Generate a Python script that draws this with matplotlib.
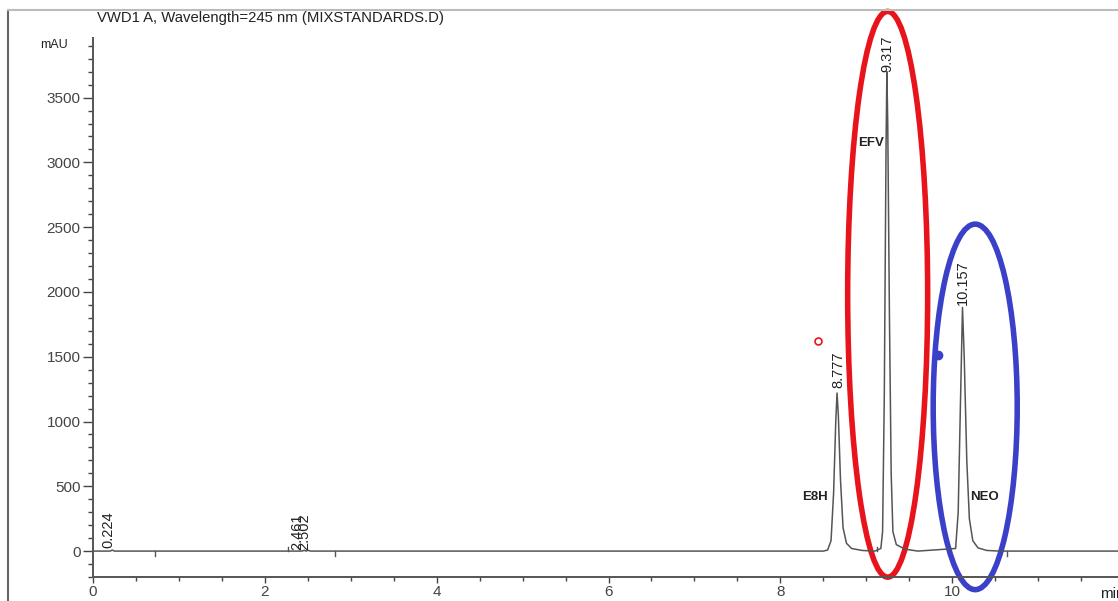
import matplotlib.pyplot as plt
from matplotlib.patches import Ellipse
from matplotlib.lines import Line2D
from matplotlib.ticker import MultipleLocator

plt.rcParams['font.family'] = ['Liberation Sans', 'DejaVu Sans']

# chromatogram trace (min, mAU)
trace_min = [0.0, 0.20, 0.224, 0.25, 2.43, 2.461, 2.48, 2.502, 2.53,
             8.50, 8.55, 8.59, 8.62, 8.645, 8.66, 8.675, 8.70, 8.73, 8.77, 8.83, 8.95,
             9.10, 9.17, 9.19, 9.21, 9.23, 9.24, 9.25, 9.27, 9.29, 9.31, 9.35, 9.45,
             9.60, 10.04, 10.07, 10.095, 10.12, 10.14, 10.17, 10.20, 10.24, 10.30,
             10.40, 10.55, 11.93]
trace_mau = [0, 0, 8, 0, 0, 6, 0, 6, 0,
             0, 8, 80, 450, 1000, 1220, 1050, 550, 180, 60, 20, 5,
             0, 20, 150, 1200, 3100, 3700, 3300, 1800, 600, 150, 50, 15,
             0, 20, 300, 1100, 1880, 1500, 700, 250, 80, 25,
             5, 0, 0]

# retention time labels
rt_text = ['0.224', '2.461', '2.502', '8.777', '9.317', '10.157']
rt_pos = [0.175, 2.375, 2.456, 8.67, 9.245, 10.125]
rt_base = [25, 10, 10, 1260, 3700, 1900]

# compound names
names = ['E8H', 'EFV', 'NEO']
name_x = [8.40, 9.06, 10.38]
name_y = [417, 3153, 417]

# integration marks on the baseline
mark_min = [0.72, 2.27, 2.82, 9.13, 10.64]
mark_dir = [-1, 1, -1, 1, -1]

fig = plt.figure(figsize=(11.18, 6.01), dpi=100)
ax = fig.add_axes([93 / 1118, 1 - 577 / 601, 1 - 93 / 1118, (577 - 38) / 601])

ax.plot(trace_min, trace_mau, color='#555555', lw=1.1)
for m, d in zip(mark_min, mark_dir):
    ax.plot([m, m], [0, d * 35], color='#555555', lw=1.0)

for t, x, y in zip(rt_text, rt_pos, rt_base):
    ax.text(x, y, t, rotation=90, ha='center', va='bottom', fontsize=10.5, color='#222222')

for n, x, y in zip(names, name_x, name_y):
    ax.text(x, y, n, ha='center', va='center', fontsize=9.5, fontweight='bold', color='#222222')

# hand drawn highlights
ax.add_patch(Ellipse((9.249, 1982), 0.931, 4366, fill=False, ec='#e8141c', lw=4, clip_on=False))
ax.add_patch(Ellipse((10.268, 1113), 0.978, 2821, fill=False, ec='#3b40c9', lw=4, clip_on=False))
ax.plot([8.44], [1623], 'o', mfc='none', mec='#e8141c', ms=5, mew=1.2, clip_on=False)
ax.plot([9.84], [1515], 'o', color='#3b40c9', ms=6, clip_on=False)

ax.set_xlim(0, 11.93)
ax.set_ylim(-200, 3960)
ax.xaxis.set_major_locator(MultipleLocator(2))
ax.xaxis.set_minor_locator(MultipleLocator(0.5))
ax.yaxis.set_major_locator(MultipleLocator(500))
ax.yaxis.set_minor_locator(MultipleLocator(100))
ax.set_yticks(range(0, 3501, 500))
ax.tick_params(axis='y', which='major', length=7, width=1, colors='#444444', labelsize=11, pad=2)
ax.tick_params(axis='y', which='minor', length=3.5, width=1, colors='#444444')
ax.tick_params(axis='x', which='major', length=4, width=1, colors='#444444', labelsize=11, pad=2)
ax.tick_params(axis='x', which='minor', length=3, width=1, colors='#444444')
for s in ['top', 'right']:
    ax.spines[s].set_visible(False)
for s in ['left', 'bottom']:
    ax.spines[s].set_color('#555555')
    ax.spines[s].set_linewidth(1.4)

ax.text(11.72, -330, 'min', ha='left', va='center', fontsize=11, color='#222222', clip_on=False)

fig.text(97 / 1118, 1 - 18 / 601, 'VWD1 A, Wavelength=245 nm (MIXSTANDARDS.D)',
         ha='left', va='center', fontsize=10.7, color='#222222')
fig.text(68 / 1118, 1 - 45 / 601, 'mAU', ha='right', va='center', fontsize=9, color='#222222')

# frame of the original screenshot
fig.add_artist(Line2D([8 / 1118, 8 / 1118], [0, 1 - 10 / 601], color='#666666', lw=1.5))
fig.add_artist(Line2D([8 / 1118, 1], [1 - 10 / 601, 1 - 10 / 601], color='#bbbbbb', lw=1.5))

fig.savefig('out.png', dpi=100)
